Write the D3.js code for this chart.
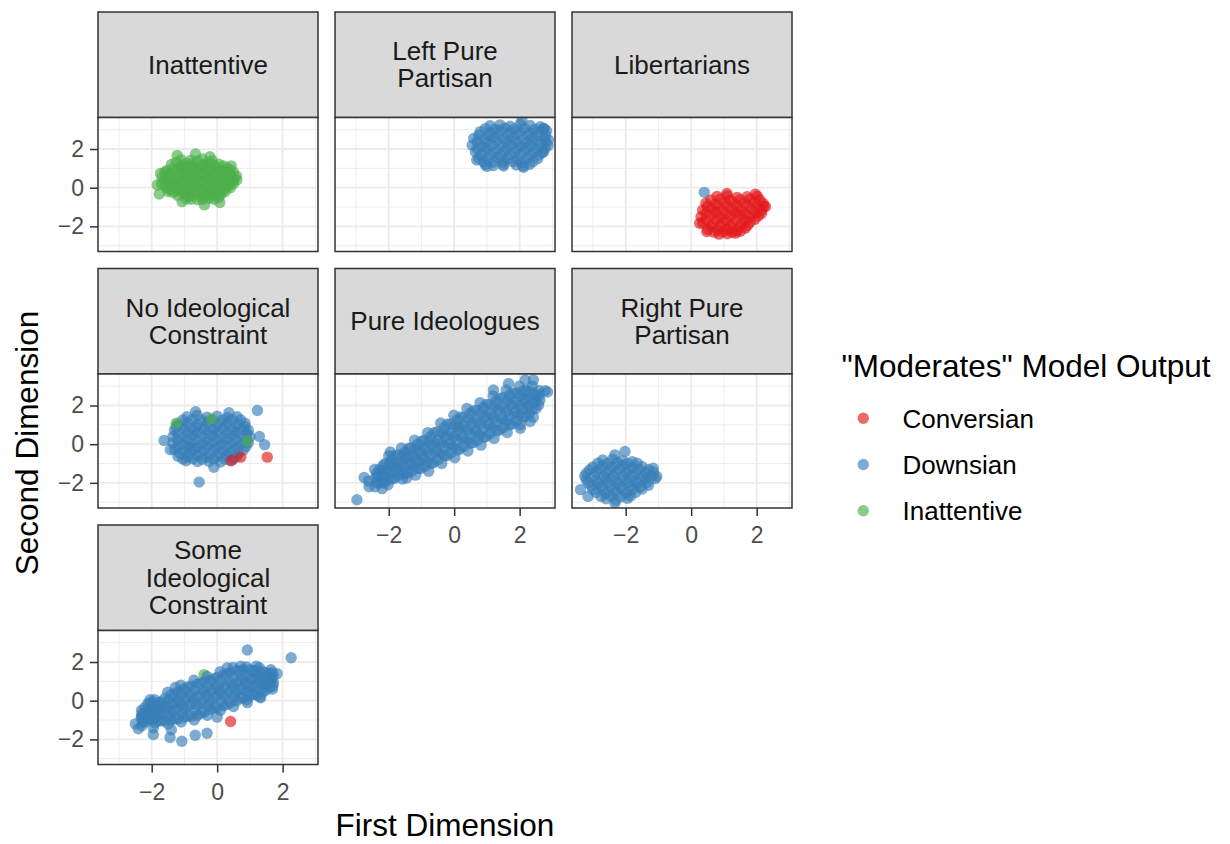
<!DOCTYPE html>
<html>
<head>
<meta charset="utf-8">
<script src="https://cdn.jsdelivr.net/npm/d3@7"></script>
<style>
	body { margin: 0; background: #fff; }
	svg { display: block; font-family: "Liberation Sans", Arial, Helvetica, sans-serif; }
</style>
</head>
<body>
<div id="chart"></div>
<script>

// ---- data ----
const facetNames = ["Inattentive", "Left Pure Partisan", "Libertarians", "No Ideological Constraint",
	"Pure Ideologues", "Right Pure Partisan", "Some Ideological Constraint"];
const stripLines = [["Inattentive"], ["Left Pure", "Partisan"], ["Libertarians"], ["No Ideological", "Constraint"],
	["Pure Ideologues"], ["Right Pure", "Partisan"], ["Some", "Ideological", "Constraint"]];

const outputTypes = ["Conversian", "Downsian", "Inattentive"];
const typeCodes = { C: "Conversian", D: "Downsian", I: "Inattentive" };
const typeColors = ["#E41A1C", "#377EB8", "#4DAF4A"];

const majorBreaks = [-2, 0, 2];
const minorBreaks = [-3, -1, 1, 3];
const xDomain = [-3.64, 3.08];
const yDomain = [-3.3, 3.63];

// [first dimension, second dimension, type] ; type defaults to Downsian
const inattentivePts = [
	[0.28,0.48,"D"],[-1.33,0.05,"D"],
	[-1.25,1.32,"I"],[-0.95,1.25,"I"],[-0.6,1.38,"I"],[-0.3,1.28,"I"],[0.05,1.22,"I"],
	[-1.1,1.1,"I"],[-0.75,1.12,"I"],[-0.4,1.15,"I"],[-0.05,1.08,"I"],
	[-1.55,0.88,"I"],[-1.2,0.95,"I"],[-0.9,0.85,"I"],[-0.55,0.98,"I"],[-0.2,0.9,"I"],[0.15,0.86,"I"],[0.4,0.92,"I"],
	[-1.45,0.7,"I"],[-1.1,0.72,"I"],[-0.8,0.66,"I"],[-0.45,0.74,"I"],[-0.1,0.68,"I"],[0.2,0.72,"I"],
	[-1.68,0.52,"I"],[-1.35,0.45,"I"],[-1.0,0.55,"I"],[-0.7,0.48,"I"],[-0.35,0.52,"I"],[0.0,0.44,"I"],[0.3,0.55,"I"],[0.52,0.47,"I"],
	[-1.5,0.3,"I"],[-1.15,0.32,"I"],[-0.85,0.26,"I"],[-0.5,0.34,"I"],[-0.15,0.28,"I"],[0.18,0.3,"I"],[0.45,0.28,"I"],
	[-1.6,0.12,"I"],[-1.3,0.18,"I"],[-1.0,0.08,"I"],[-0.65,0.15,"I"],[-0.3,0.05,"I"],[0.05,0.14,"I"],[0.35,0.1,"I"],
	[-1.45,-0.08,"I"],[-1.15,-0.1,"I"],[-0.85,-0.05,"I"],[-0.5,-0.12,"I"],[-0.15,-0.08,"I"],[0.2,-0.05,"I"],
	[-1.35,-0.25,"I"],[-1.0,-0.32,"I"],[-0.7,-0.22,"I"],[-0.35,-0.35,"I"],[-0.05,-0.28,"I"],[0.25,-0.2,"I"],
	[-0.8,-0.42,"I"],[-0.45,-0.48,"I"],[-0.15,-0.4,"I"],
	[-0.95,-0.58,"I"],[-0.6,-0.62,"I"],[-0.25,-0.55,"I"],[0.05,-0.5,"I"],
	[-1.1,1.45,"I"],[-0.8,1.42,"I"],[-0.45,1.48,"I"],[-0.15,1.4,"I"],
	[-1.4,1.2,"I"],[-1.05,1.18,"I"],[-0.75,1.24,"I"],[-0.45,1.2,"I"],[-0.15,1.18,"I"],[0.2,1.12,"I"],
	[-1.35,1.0,"I"],[-1.0,1.02,"I"],[-0.7,0.96,"I"],[-0.35,1.0,"I"],[0.0,0.98,"I"],[0.3,1.02,"I"],
	[-1.6,0.8,"I"],[-1.3,0.82,"I"],[-0.95,0.78,"I"],[-0.65,0.82,"I"],[-0.3,0.78,"I"],[0.05,0.8,"I"],[0.35,0.78,"I"],[0.5,0.8,"I"],
	[-1.55,0.6,"I"],[-1.2,0.62,"I"],[-0.9,0.58,"I"],[-0.55,0.62,"I"],[-0.2,0.6,"I"],[0.15,0.62,"I"],[0.42,0.6,"I"],
	[-1.6,0.4,"I"],[-1.25,0.38,"I"],[-0.9,0.42,"I"],[-0.6,0.4,"I"],[-0.25,0.38,"I"],[0.1,0.42,"I"],[0.4,0.4,"I"],[0.6,0.4,"I"],
	[-1.7,0.2,"I"],[-1.4,0.22,"I"],[-1.1,0.18,"I"],[-0.75,0.2,"I"],[-0.4,0.22,"I"],[-0.1,0.18,"I"],[0.25,0.2,"I"],[0.5,0.2,"I"],
	[-1.55,0.0,"I"],[-1.25,0.02,"I"],[-0.95,-0.02,"I"],[-0.6,0.0,"I"],[-0.25,0.02,"I"],[0.1,-0.02,"I"],[0.4,0.0,"I"],
	[-1.5,-0.2,"I"],[-1.2,-0.18,"I"],[-0.85,-0.22,"I"],[-0.5,-0.2,"I"],[-0.2,-0.18,"I"],[0.15,-0.22,"I"],
	[-1.2,-0.4,"I"],[-0.9,-0.42,"I"],[-0.55,-0.38,"I"],[-0.25,-0.42,"I"],[0.1,-0.38,"I"],
	[-0.8,-0.6,"I"],[-0.45,-0.62,"I"],[-0.1,-0.6,"I"],
	[-1.77,-0.33,"I"],[-1.07,-0.72,"I"],[-0.39,-0.89,"I"],[0.08,-0.77,"I"],[0.43,1.13,"I"],[0.59,0.6,"I"],
	[-1.22,1.67,"I"],[-0.66,1.74,"I"],[-0.22,1.6,"I"],[-1.83,0.14,"I"],[-1.73,0.74,"I"]
];

const leftPurePts = [
	[1.1,3.2],[1.4,3.25],[1.71,3.18],[2.02,3.28],[2.32,3.22],[2.63,3.15],
	[0.8,2.9],[1.1,2.85],[1.4,2.95],[1.7,2.88],[2.0,2.92],[2.3,2.85],[2.6,2.9],[2.82,2.95],
	[0.6,2.55],[0.9,2.5],[1.2,2.58],[1.5,2.52],[1.8,2.56],[2.1,2.5],[2.4,2.55],[2.75,2.52],
	[0.55,2.2],[0.85,2.15],[1.15,2.24],[1.45,2.18],[1.75,2.22],[2.05,2.16],[2.35,2.2],[2.65,2.25],[2.87,2.18],
	[0.65,1.85],[0.95,1.9],[1.25,1.82],[1.55,1.88],[1.85,1.84],[2.15,1.9],[2.45,1.85],[2.7,1.82],
	[0.75,1.52],[1.05,1.48],[1.35,1.55],[1.65,1.5],[1.95,1.46],[2.25,1.53],[2.55,1.5],
	[0.95,1.2],[1.2,1.15],[1.5,1.22],[1.9,1.18],[2.1,1.12],[2.3,1.2],
	[0.95,3.05],[1.25,3.02],[1.55,3.08],[1.85,3.04],[2.15,3.06],[2.45,3.02],[2.75,3.05],
	[0.75,2.72],[1.05,2.7],[1.35,2.74],[1.65,2.7],[1.95,2.75],[2.25,2.7],[2.55,2.72],[2.8,2.7],
	[0.7,2.37],[1.0,2.35],[1.3,2.4],[1.6,2.36],[1.9,2.38],[2.2,2.34],[2.5,2.38],[2.8,2.36],
	[0.7,2.03],[1.0,2.05],[1.3,2.0],[1.6,2.04],[1.9,2.02],[2.2,2.06],[2.5,2.02],[2.78,2.04],
	[0.8,1.68],[1.1,1.7],[1.4,1.66],[1.7,1.7],[2.0,1.68],[2.3,1.66],[2.6,1.7],
	[0.9,1.34],[1.2,1.32],[1.5,1.36],[1.8,1.34],[2.05,1.3],[2.4,1.34],
	[2.07,3.49],[0.69,1.43],[1.0,1.1],[1.51,1.12],[2.12,1.06],[2.73,1.86],[2.88,2.46],[2.73,3.06]
];

const libertarianPts = [
	[0.4,-0.24,"D"],
	[1.09,-0.3,"C"],[1.96,-0.34,"C"],
	[0.79,-0.45,"C"],[1.1,-0.42,"C"],[1.4,-0.5,"C"],[1.71,-0.47,"C"],[2.02,-0.44,"C"],
	[0.45,-0.8,"C"],[0.75,-0.85,"C"],[1.05,-0.78,"C"],[1.35,-0.84,"C"],[1.65,-0.8,"C"],[1.95,-0.76,"C"],[2.2,-0.82,"C"],
	[0.35,-1.15,"C"],[0.65,-1.12,"C"],[0.95,-1.18,"C"],[1.25,-1.14,"C"],[1.55,-1.2,"C"],[1.85,-1.12,"C"],[2.15,-1.16,"C"],
	[0.3,-1.5,"C"],[0.6,-1.45,"C"],[0.9,-1.52,"C"],[1.2,-1.48,"C"],[1.5,-1.44,"C"],[1.8,-1.5,"C"],[2.05,-1.46,"C"],
	[0.35,-1.82,"C"],[0.65,-1.88,"C"],[0.95,-1.8,"C"],[1.25,-1.86,"C"],[1.55,-1.82,"C"],[1.8,-1.78,"C"],
	[0.5,-2.15,"C"],[0.8,-2.2,"C"],[1.1,-2.16,"C"],[1.4,-2.22,"C"],[1.65,-2.1,"C"],
	[0.85,-2.4,"C"],[1.1,-2.38,"C"],[1.35,-2.35,"C"],
	[0.6,-0.63,"C"],[0.9,-0.6,"C"],[1.2,-0.65,"C"],[1.5,-0.62,"C"],[1.8,-0.6,"C"],[2.1,-0.64,"C"],
	[0.5,-0.98,"C"],[0.8,-1.0,"C"],[1.1,-0.96,"C"],[1.4,-1.0,"C"],[1.7,-0.97,"C"],[2.0,-1.0,"C"],[2.22,-0.96,"C"],
	[0.45,-1.32,"C"],[0.75,-1.3,"C"],[1.05,-1.34,"C"],[1.35,-1.3,"C"],[1.65,-1.33,"C"],[1.95,-1.3,"C"],[2.15,-1.32,"C"],
	[0.45,-1.66,"C"],[0.75,-1.64,"C"],[1.05,-1.68,"C"],[1.35,-1.65,"C"],[1.65,-1.66,"C"],[1.95,-1.63,"C"],
	[0.6,-2.0,"C"],[0.9,-1.98,"C"],[1.2,-2.02,"C"],[1.5,-2.0,"C"],[1.72,-1.96,"C"],
	[0.7,-2.3,"C"],[0.98,-2.28,"C"],[1.25,-2.3,"C"],[1.5,-2.25,"C"],
	[2.27,-0.98,"C"],[0.26,-1.84,"C"],[0.48,-2.27,"C"]
];

const noConstraintPts = [
	[-0.82,-0.17,"I"],
	[-0.92,1.42],[-0.61,1.48],[-0.31,1.4],[0.0,1.45],[0.31,1.38],[0.61,1.42],
	[-1.2,1.05],[-0.9,1.1],[-0.6,1.04],[-0.3,1.12],[0.0,1.06],[0.3,1.1],[0.6,1.03],[0.85,1.08],
	[-1.3,0.72],[-1.0,0.78],[-0.7,0.7],[-0.4,0.76],[-0.1,0.72],[0.2,0.78],[0.5,0.7],[0.8,0.75],[0.95,0.72],
	[-1.35,0.4],[-1.05,0.36],[-0.75,0.44],[-0.45,0.38],[-0.15,0.42],[0.15,0.36],[0.45,0.42],[0.75,0.38],[1.0,0.4],
	[-1.35,0.06],[-1.05,0.02],[-0.75,0.08],[-0.45,0.03],[-0.15,0.07],[0.15,0.02],[0.45,0.06],[0.75,0.04],[0.95,0.08],
	[-1.3,-0.28],[-1.0,-0.32],[-0.7,-0.26],[-0.4,-0.3],[-0.1,-0.27],[0.2,-0.33],[0.5,-0.28],[0.8,-0.3],
	[-1.2,-0.62],[-0.9,-0.66],[-0.6,-0.6],[-0.3,-0.68],[0.0,-0.63],[0.3,-0.6],[0.6,-0.65],
	[-0.95,-0.86],[-0.6,-0.9],[-0.25,-0.88],[0.1,-0.92],[0.4,-0.86],
	[-1.05,1.25],[-0.75,1.27],[-0.45,1.23],[-0.15,1.26],[0.15,1.24],[0.45,1.27],[0.72,1.25],
	[-1.25,0.9],[-0.95,0.92],[-0.65,0.88],[-0.35,0.91],[-0.05,0.89],[0.25,0.92],[0.55,0.88],[0.85,0.9],
	[-1.2,0.57],[-0.9,0.55],[-0.6,0.59],[-0.3,0.56],[0.0,0.58],[0.3,0.55],[0.6,0.58],[0.9,0.56],
	[-1.2,0.22],[-0.9,0.24],[-0.6,0.2],[-0.3,0.23],[0.0,0.21],[0.3,0.24],[0.6,0.2],[0.9,0.22],
	[-1.2,-0.12],[-0.9,-0.1],[-0.6,-0.14],[-0.3,-0.11],[0.0,-0.13],[0.3,-0.1],[0.6,-0.14],[0.88,-0.12],
	[-1.15,-0.46],[-0.85,-0.48],[-0.55,-0.44],[-0.25,-0.47],[0.05,-0.45],[0.35,-0.48],[0.65,-0.45],
	[-1.05,-0.77],[-0.75,-0.75],[-0.45,-0.78],[-0.1,-0.76],[0.25,-0.78],[0.5,-0.75],
	[-0.66,1.68],[0.36,1.63],[-1.43,-0.29],
	[-1.62,0.19],[1.23,1.74],[1.29,0.4],[1.45,-0.03],[-0.55,-1.96],[-0.1,-1.19],
	[1.53,-0.67,"C"],[0.44,-0.84,"C"],[0.72,-0.67,"C"],
	[-1.25,1.08,"I"],[-0.17,1.31,"I"],[0.92,0.17,"I"]
];

const pureIdeoPts = [
	[0.13,0.91,"I"],
	[-2.97,-2.87],[-2.6,-2.2],[-2.62,-1.9],[-2.75,-1.72],[-2.2,-2.3],
	[-2.42,-2.2],[-2.38,-1.98],[-2.41,-1.75],[-2.37,-1.52],[-2.43,-1.3],
	[-2.18,-2.0],[-2.22,-1.7],[-2.2,-1.4],[-2.17,-1.1],
	[-2.02,-2.1],[-1.98,-1.72],[-2.03,-1.35],[-1.97,-0.98],[-2.0,-0.6],
	[-1.82,-1.77],[-1.78,-1.38],[-1.8,-0.98],[-1.83,-0.6],
	[-1.58,-1.8],[-1.62,-1.4],[-1.6,-1.0],[-1.57,-0.6],[-1.61,-0.2],
	[-1.42,-1.49],[-1.38,-1.06],[-1.41,-0.64],[-1.39,-0.21],
	[-1.18,-1.6],[-1.22,-1.15],[-1.2,-0.7],[-1.17,-0.25],[-1.21,0.2],
	[-1.02,-1.26],[-0.98,-0.79],[-1.01,-0.31],[-0.99,0.16],
	[-0.78,-1.4],[-0.82,-0.9],[-0.8,-0.4],[-0.77,0.1],[-0.81,0.6],
	[-0.62,-0.95],[-0.58,-0.44],[-0.6,0.08],[-0.61,0.59],
	[-0.38,-1.0],[-0.42,-0.48],[-0.4,0.05],[-0.37,0.58],[-0.41,1.1],
	[-0.22,-0.59],[-0.18,-0.05],[-0.2,0.49],[-0.21,1.03],
	[0.02,-0.7],[-0.02,-0.15],[0.0,0.4],[0.03,0.95],[-0.01,1.5],
	[0.18,-0.25],[0.22,0.31],[0.2,0.86],[0.19,1.41],
	[0.42,-0.35],[0.38,0.2],[0.4,0.75],[0.43,1.3],[0.39,1.85],
	[0.58,0.08],[0.62,0.63],[0.6,1.18],[0.59,1.73],
	[0.82,-0.05],[0.78,0.5],[0.8,1.05],[0.83,1.6],[0.79,2.15],
	[0.98,0.4],[1.02,0.95],[1.0,1.5],[0.99,2.05],
	[1.22,0.3],[1.18,0.85],[1.2,1.4],[1.23,1.95],[1.19,2.5],
	[1.38,0.73],[1.42,1.28],[1.4,1.83],[1.39,2.38],
	[1.62,0.6],[1.58,1.15],[1.6,1.7],[1.63,2.25],[1.59,2.8],
	[1.78,1.06],[1.82,1.59],[1.8,2.11],[1.79,2.64],
	[2.02,1.0],[1.98,1.5],[2.0,2.0],[2.03,2.5],[1.99,3.0],
	[2.18,1.43],[2.22,1.88],[2.2,2.33],[2.19,2.78],
	[2.42,1.4],[2.38,1.8],[2.4,2.2],[2.43,2.6],[2.39,3.0],
	[2.58,2.03],[2.62,2.28],[2.6,2.53],[2.59,2.78],
	[-2.3,-2.0],[-2.32,-1.65],[-2.28,-1.3],
	[-2.1,-1.95],[-2.12,-1.6],[-2.08,-1.3],[-2.11,-1.0],
	[-1.9,-1.8],[-1.92,-1.45],[-1.88,-1.1],[-1.91,-0.8],
	[-1.7,-1.6],[-1.72,-1.25],[-1.68,-0.9],[-1.71,-0.55],
	[-1.5,-1.5],[-1.52,-1.1],[-1.48,-0.75],[-1.51,-0.4],
	[-1.3,-1.4],[-1.32,-1.0],[-1.28,-0.6],[-1.31,-0.2],
	[-1.1,-1.25],[-1.12,-0.85],[-1.08,-0.4],[-1.11,0.0],
	[-0.9,-1.15],[-0.92,-0.7],[-0.88,-0.25],[-0.91,0.2],
	[-0.7,-1.0],[-0.72,-0.55],[-0.68,-0.05],[-0.71,0.4],
	[-0.5,-0.8],[-0.52,-0.3],[-0.48,0.2],[-0.51,0.65],
	[-0.3,-0.6],[-0.32,-0.1],[-0.28,0.38],[-0.31,0.85],
	[-0.1,-0.45],[-0.12,0.05],[-0.08,0.55],[-0.11,1.05],
	[0.1,-0.3],[0.08,0.2],[0.12,0.75],[0.09,1.25],
	[0.3,-0.1],[0.28,0.4],[0.32,0.9],[0.29,1.4],
	[0.5,0.05],[0.48,0.55],[0.52,1.05],[0.49,1.6],
	[0.7,0.2],[0.68,0.7],[0.72,1.2],[0.69,1.75],
	[0.9,0.35],[0.88,0.85],[0.92,1.4],[0.89,1.9],
	[1.1,0.55],[1.08,1.05],[1.12,1.55],[1.09,2.05],
	[1.3,0.7],[1.28,1.2],[1.32,1.75],[1.29,2.25],
	[1.5,0.85],[1.48,1.35],[1.52,1.9],[1.49,2.4],
	[1.7,1.0],[1.68,1.5],[1.72,2.05],[1.69,2.55],
	[1.9,1.2],[1.88,1.7],[1.92,2.2],[1.89,2.65],
	[2.1,1.4],[2.08,1.85],[2.12,2.3],[2.09,2.75],
	[2.3,1.6],[2.28,2.0],[2.32,2.4],[2.29,2.75],
	[2.5,1.85],[2.48,2.2],[2.52,2.55],
	[2.32,1.17],[2.02,0.82],[2.78,2.77],[2.17,3.32],[2.42,3.32],[1.66,3.14],[1.2,2.8],
	[-1.95,-0.4],[-1.45,-1.75],[2.85,2.7]
];

const rightPurePts = [
	[-2.7,-0.82],[-2.4,-0.78],[-2.1,-0.85],[-1.8,-0.9],
	[-3.0,-1.18],[-2.7,-1.12],[-2.4,-1.15],[-2.1,-1.1],[-1.8,-1.2],[-1.5,-1.15],
	[-3.2,-1.5],[-2.9,-1.45],[-2.6,-1.52],[-2.3,-1.48],[-2.0,-1.46],[-1.7,-1.52],[-1.4,-1.48],[-1.15,-1.44],
	[-3.2,-1.84],[-2.9,-1.88],[-2.6,-1.8],[-2.3,-1.86],[-2.0,-1.82],[-1.7,-1.88],[-1.4,-1.8],[-1.1,-1.78],
	[-3.05,-2.15],[-2.75,-2.2],[-2.45,-2.14],[-2.15,-2.22],[-1.85,-2.16],[-1.55,-2.2],[-1.3,-2.12],
	[-2.9,-2.5],[-2.6,-2.55],[-2.3,-2.48],[-2.0,-2.56],[-1.7,-2.5],
	[-2.6,-2.82],[-2.3,-2.9],[-1.95,-2.8],
	[-2.85,-0.98],[-2.55,-1.0],[-2.25,-0.96],[-1.95,-1.0],[-1.65,-0.98],
	[-3.1,-1.32],[-2.8,-1.3],[-2.5,-1.34],[-2.2,-1.3],[-1.9,-1.33],[-1.6,-1.3],[-1.3,-1.32],
	[-3.25,-1.66],[-2.95,-1.64],[-2.65,-1.68],[-2.35,-1.65],[-2.05,-1.67],[-1.75,-1.64],[-1.45,-1.68],[-1.2,-1.65],
	[-3.15,-2.0],[-2.85,-2.02],[-2.55,-1.98],[-2.25,-2.01],[-1.95,-1.99],[-1.65,-2.02],[-1.35,-1.98],
	[-3.0,-2.35],[-2.7,-2.33],[-2.4,-2.37],[-2.1,-2.34],[-1.8,-2.36],[-1.5,-2.32],
	[-2.75,-2.7],[-2.45,-2.68],[-2.15,-2.72],[-1.85,-2.68],
	[-3.38,-2.35],[-3.15,-2.7],[-2.02,-0.38],[-2.33,-0.55],[-1.05,-1.67],[-1.16,-1.24],[-2.33,-3.04]
];

const someConstraintPts = [
	[-0.4,1.35,"I"],
	[-2.3,-1.3],[-2.28,-1.1],[-2.32,-0.9],[-2.29,-0.7],[-2.31,-0.5],
	[-2.1,-0.96],[-2.12,-0.69],[-2.08,-0.41],[-2.11,-0.14],
	[-1.9,-1.15],[-1.88,-0.85],[-1.92,-0.55],[-1.89,-0.25],[-1.91,0.05],
	[-1.7,-1.04],[-1.72,-0.71],[-1.68,-0.39],[-1.71,-0.06],
	[-1.5,-1.2],[-1.48,-0.79],[-1.52,-0.38],[-1.49,0.03],[-1.51,0.44],
	[-1.3,-0.94],[-1.32,-0.51],[-1.28,-0.09],[-1.31,0.34],
	[-1.1,-1.1],[-1.08,-0.62],[-1.12,-0.15],[-1.09,0.33],[-1.11,0.8],
	[-0.9,-0.8],[-0.92,-0.3],[-0.88,0.2],[-0.91,0.7],
	[-0.7,-1.0],[-0.68,-0.49],[-0.72,0.03],[-0.69,0.55],[-0.71,1.06],
	[-0.5,-0.65],[-0.52,-0.14],[-0.48,0.38],[-0.51,0.89],
	[-0.3,-0.75],[-0.28,-0.25],[-0.32,0.25],[-0.29,0.75],[-0.31,1.25],
	[-0.1,-0.36],[-0.12,0.14],[-0.08,0.62],[-0.11,1.12],
	[0.1,-0.5],[0.12,0.0],[0.08,0.5],[0.11,1.0],[0.09,1.5],
	[0.3,-0.19],[0.28,0.34],[0.32,0.86],[0.29,1.39],
	[0.5,-0.3],[0.52,0.2],[0.48,0.71],[0.51,1.22],[0.49,1.72],
	[0.7,0.13],[0.68,0.6],[0.72,1.06],[0.69,1.53],
	[0.9,0.05],[0.92,0.48],[0.88,0.9],[0.91,1.33],[0.89,1.75],
	[1.1,0.35],[1.08,0.75],[1.12,1.15],[1.09,1.55],
	[1.3,0.2],[1.32,0.58],[1.28,0.95],[1.31,1.33],[1.29,1.7],
	[1.5,0.55],[1.48,0.85],[1.52,1.15],[1.49,1.45],
	[1.7,0.75],[1.72,0.93],[1.68,1.1],[1.71,1.28],[1.69,1.45],
	[-2.2,-1.1],[-2.22,-0.85],[-2.18,-0.6],[-2.21,-0.35],
	[-2.0,-1.0],[-2.02,-0.7],[-1.98,-0.4],[-2.01,-0.1],
	[-1.8,-1.05],[-1.82,-0.75],[-1.78,-0.4],[-1.81,-0.1],
	[-1.6,-1.05],[-1.62,-0.65],[-1.58,-0.3],[-1.61,0.1],
	[-1.4,-1.0],[-1.42,-0.55],[-1.38,-0.15],[-1.41,0.3],
	[-1.2,-0.95],[-1.22,-0.45],[-1.18,0.0],[-1.21,0.45],
	[-1.0,-0.85],[-1.02,-0.35],[-0.98,0.15],[-1.01,0.6],
	[-0.8,-0.8],[-0.82,-0.25],[-0.78,0.25],[-0.81,0.75],
	[-0.6,-0.75],[-0.62,-0.2],[-0.58,0.3],[-0.61,0.85],
	[-0.4,-0.6],[-0.42,-0.1],[-0.38,0.45],[-0.41,0.95],
	[-0.2,-0.45],[-0.22,0.05],[-0.18,0.55],[-0.21,1.05],
	[0.0,-0.35],[-0.02,0.2],[0.02,0.7],[-0.01,1.2],
	[0.2,-0.25],[0.18,0.3],[0.22,0.8],[0.19,1.35],
	[0.4,-0.1],[0.38,0.4],[0.42,0.9],[0.39,1.45],
	[0.6,0.0],[0.58,0.5],[0.62,1.0],[0.59,1.55],
	[0.8,0.15],[0.78,0.6],[0.82,1.1],[0.79,1.6],
	[1.0,0.25],[0.98,0.7],[1.02,1.15],[0.99,1.6],
	[1.2,0.3],[1.18,0.75],[1.22,1.15],[1.19,1.55],
	[1.4,0.45],[1.38,0.8],[1.42,1.15],[1.39,1.5],
	[1.6,0.7],[1.58,0.95],[1.62,1.2],[1.59,1.4],
	[0.92,2.62],[2.26,2.22],[-0.31,-1.68],[-0.67,-1.79],[-1.08,-2.1],[-1.44,-1.9],[-1.95,-1.75],
	[-2.41,-1.45],[-2.31,-0.77],[-2.05,0.05],[-1.28,0.68],[1.83,1.4],[1.69,0.6],[1.33,0.15],
	[0.92,-0.1],[0.0,-0.85],[-2.5,-1.2],[-1.95,-1.4],[-1.4,-1.5],[1.64,1.6],[1.2,1.78],[0.72,1.78],[0.31,1.7],
	[0.41,-1.08,"C"]
];

const facetPoints = [inattentivePts, leftPurePts, libertarianPts, noConstraintPts,
	pureIdeoPts, rightPurePts, someConstraintPts];

// ---- layout ----
let width = 1230,
	height = 844;
let colX = [98, 335, 572],
	rowY = [12, 268.5, 525];
let panelW = 220,
	panelH = 134,
	stripH = 105.5;

let svg = d3.select("#chart")
	.append("svg")
		.attr("width", width)
		.attr("height", height);

svg.append("rect")
	.attr("width", width)
	.attr("height", height)
	.attr("fill", "#ffffff");

let x = d3.scaleLinear().domain(xDomain).range([0, panelW]);
let y = d3.scaleLinear().domain(yDomain).range([panelH, 0]);

let color = d3.scaleOrdinal()
	.domain(outputTypes)
	.range(typeColors);

let tickFmt = d3.format("d");

facetNames.forEach(function(name, i)
{
	let col = i % 3,
		row = Math.floor(i / 3);

	// strip
	let strip = svg.append("g")
		.attr("transform", "translate(" + colX[col] + "," + rowY[row] + ")");

	strip.append("rect")
		.attr("width", panelW)
		.attr("height", stripH)
		.attr("fill", "#D9D9D9")
		.attr("stroke", "#333333")
		.attr("stroke-width", 1.5);

	let lines = stripLines[i];
	lines.forEach(function(ln, k)
	{
		strip.append("text")
			.attr("x", panelW / 2)
			.attr("y", stripH / 2 + (k - (lines.length - 1) / 2) * 27.3 + 9)
			.attr("text-anchor", "middle")
			.attr("font-size", 26)
			.attr("fill", "#1A1A1A")
			.text(ln);
	});

	// panel
	let g = svg.append("g")
		.attr("transform", "translate(" + colX[col] + "," + (rowY[row] + stripH) + ")");

	g.append("rect")
		.attr("width", panelW)
		.attr("height", panelH)
		.attr("fill", "#ffffff");

	g.selectAll(".minor-x")
		.data(minorBreaks.filter(d => d > xDomain[0] && d < xDomain[1]))
		.enter()
		.append("line")
		.attr("x1", d => x(d)).attr("x2", d => x(d))
		.attr("y1", 0).attr("y2", panelH)
		.attr("stroke", "#EBEBEB").attr("stroke-width", 0.9);

	g.selectAll(".minor-y")
		.data(minorBreaks.filter(d => d > yDomain[0] && d < yDomain[1]))
		.enter()
		.append("line")
		.attr("y1", d => y(d)).attr("y2", d => y(d))
		.attr("x1", 0).attr("x2", panelW)
		.attr("stroke", "#EBEBEB").attr("stroke-width", 0.9);

	g.selectAll(".major-x")
		.data(majorBreaks)
		.enter()
		.append("line")
		.attr("x1", d => x(d)).attr("x2", d => x(d))
		.attr("y1", 0).attr("y2", panelH)
		.attr("stroke", "#EBEBEB").attr("stroke-width", 1.8);

	g.selectAll(".major-y")
		.data(majorBreaks)
		.enter()
		.append("line")
		.attr("y1", d => y(d)).attr("y2", d => y(d))
		.attr("x1", 0).attr("x2", panelW)
		.attr("stroke", "#EBEBEB").attr("stroke-width", 1.8);

	g.append("clipPath")
		.attr("id", "clip" + i)
		.append("rect")
		.attr("width", panelW)
		.attr("height", panelH);

	g.append("g")
		.attr("clip-path", "url(#clip" + i + ")")
		.selectAll("circle")
		.data(facetPoints[i])
		.enter()
		.append("circle")
		.attr("cx", d => x(d[0]))
		.attr("cy", d => y(d[1]))
		.attr("r", 5.7)
		.attr("fill", d => color(typeCodes[d[2] || "D"]))
		.attr("fill-opacity", 0.65);

	g.append("rect")
		.attr("width", panelW)
		.attr("height", panelH)
		.attr("fill", "none")
		.attr("stroke", "#333333")
		.attr("stroke-width", 1.5);

	// y axis on the first column
	if (col === 0)
	{
		let ay = g.append("g")
			.call(d3.axisLeft(y).tickValues(majorBreaks).tickFormat(tickFmt).tickSize(8).tickPadding(6));
		ay.select(".domain").remove();
		ay.attr("font-size", 23).attr("font-family", null).attr("color", "#4D4D4D");
		ay.selectAll("line").attr("stroke", "#333333").attr("stroke-width", 1.5);
	}

	// x axis under the lowest panel of each column
	if (i + 3 >= facetNames.length)
	{
		let ax = g.append("g")
			.attr("transform", "translate(0," + panelH + ")")
			.call(d3.axisBottom(x).tickValues(majorBreaks).tickFormat(tickFmt).tickSize(8));
		ax.select(".domain").remove();
		ax.attr("font-size", 23).attr("font-family", null).attr("color", "#4D4D4D");
		ax.selectAll("line").attr("stroke", "#333333").attr("stroke-width", 1.5);
		ax.selectAll("text").attr("y", 35).attr("dy", null);
	}
});

// axis titles
svg.append("text")
	.attr("x", (colX[0] + colX[2] + panelW) / 2)
	.attr("y", 836)
	.attr("text-anchor", "middle")
	.attr("font-size", 31.5)
	.attr("fill", "#000")
	.text("First Dimension");

svg.append("text")
	.attr("transform", "translate(38,443) rotate(-90)")
	.attr("text-anchor", "middle")
	.attr("font-size", 31.5)
	.attr("fill", "#000")
	.text("Second Dimension");

// legend
let legend = svg.append("g")
	.attr("transform", "translate(841.5,0)");

legend.append("text")
	.attr("x", 0)
	.attr("y", 377)
	.attr("font-size", 31.5)
	.attr("fill", "#000")
	.text("\"Moderates\" Model Output");

let items = legend.selectAll(".legend-item")
	.data(outputTypes)
	.enter()
	.append("g")
	.attr("transform", (d, k) => "translate(0," + (418.3 + k * 46.2) + ")");

items.append("circle")
	.attr("cx", 21.8)
	.attr("cy", 0)
	.attr("r", 5.7)
	.attr("fill", d => color(d))
	.attr("fill-opacity", 0.65);

items.append("text")
	.attr("x", 61)
	.attr("y", 9.3)
	.attr("font-size", 26)
	.attr("fill", "#000")
	.text(d => d);

</script>
</body>
</html>
